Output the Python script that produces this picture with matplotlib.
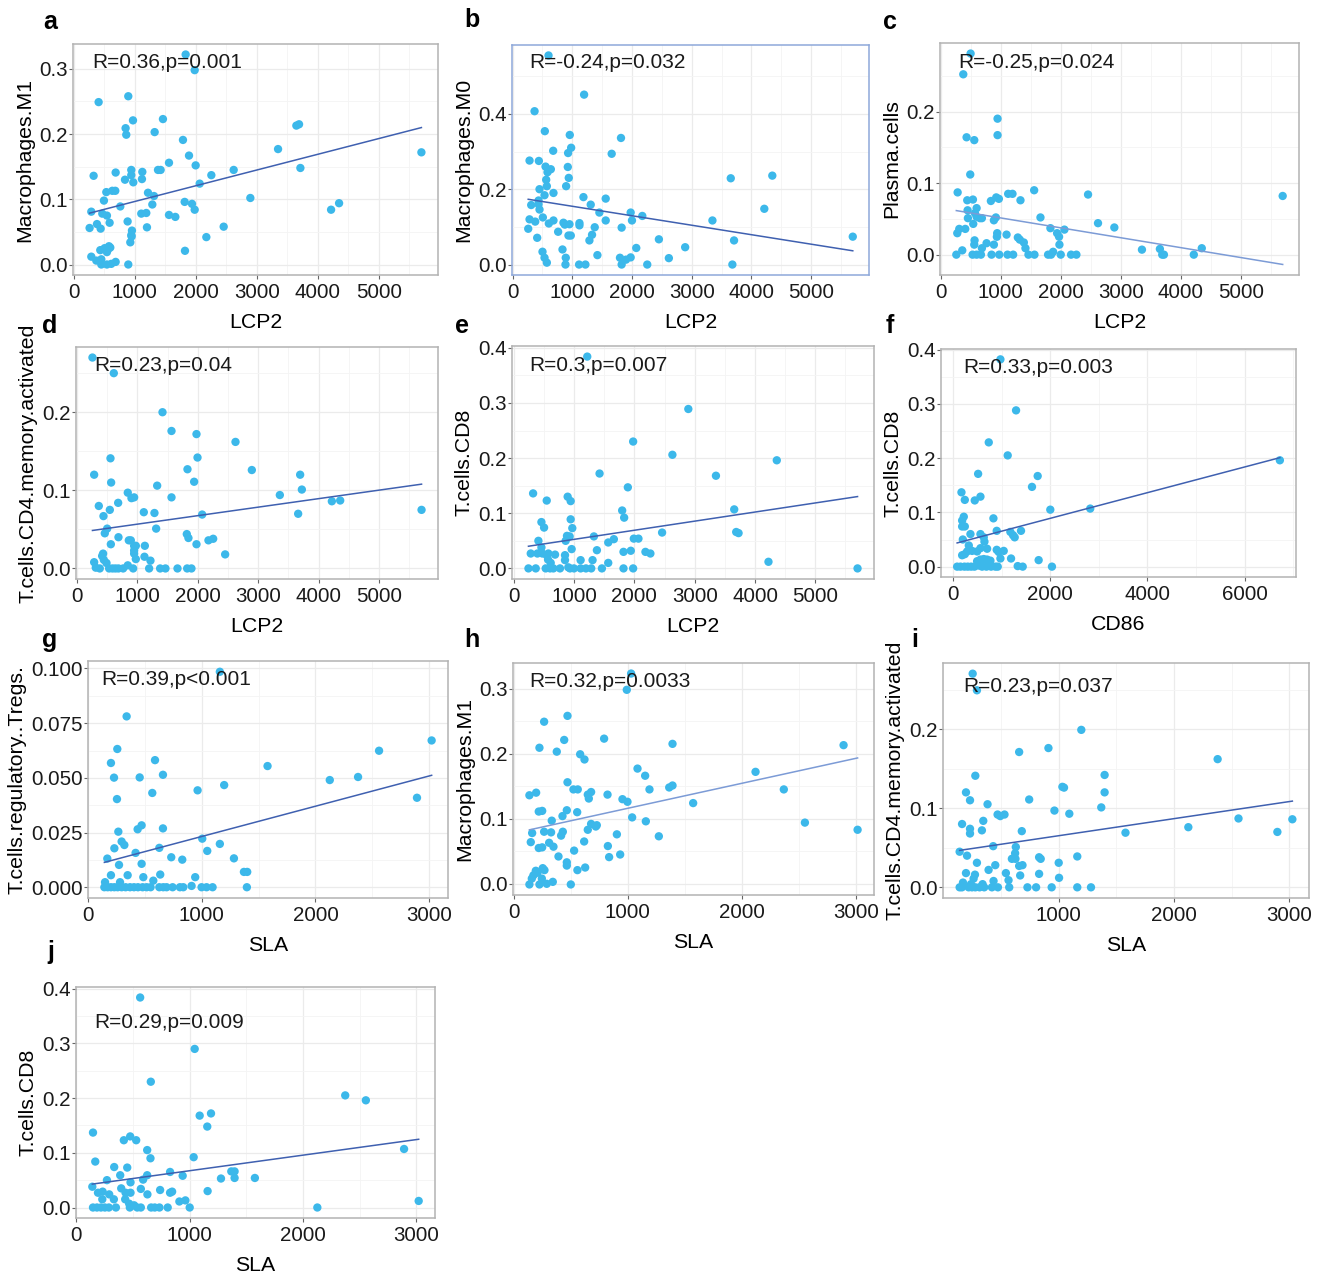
import matplotlib
matplotlib.use("Agg")
import matplotlib.pyplot as plt
import numpy as np
from matplotlib.ticker import FixedLocator, MultipleLocator

plt.rcParams["font.family"] = ["Liberation Sans", "DejaVu Sans"]

# a: LCP2 vs Macrophages.M1
x_a = [1836, 1984, 410, 896, 973, 1464, 852, 863, 1328, 1792, 1891, 1563, 2000, 328,
       689, 945, 945, 1126, 1383, 1426, 842, 978, 1120, 2257, 2623, 3350, 3650, 3694,
       3716, 2066, 634, 683, 536, 1219, 497, 1317, 1290, 765, 290, 470, 546, 1109, 1191,
       1820, 1940, 1984, 2896, 4219, 4350, 5699, 1563, 1667, 262, 383, 443, 590, 885,
       956, 945, 951, 929, 1202, 2459, 2175, 1825, 437, 508, 579, 563, 601, 546, 290,
       372, 454, 454, 546, 617, 689, 896]
y_a = [0.322, 0.298, 0.249, 0.258, 0.221, 0.223, 0.209, 0.199, 0.203, 0.191, 0.167, 0.156,
       0.152, 0.136, 0.141, 0.145, 0.137, 0.142, 0.145, 0.145, 0.130, 0.126, 0.131, 0.137,
       0.145, 0.177, 0.213, 0.215, 0.148, 0.124, 0.113, 0.113, 0.111, 0.110, 0.098, 0.105,
       0.092, 0.089, 0.081, 0.078, 0.075, 0.078, 0.079, 0.096, 0.093, 0.084, 0.102, 0.084,
       0.094, 0.172, 0.076, 0.073, 0.056, 0.062, 0.055, 0.064, 0.066, 0.052, 0.045, 0.043,
       0.034, 0.057, 0.058, 0.042, 0.021, 0.022, 0.025, 0.028, 0.023, 0.026, 0.019, 0.012,
       0.006, 0.008, 0.000, 0.000, 0.001, 0.004, 0.000]

# b: LCP2 vs Macrophages.M0
x_b = [602, 1198, 368, 540, 958, 1816, 981, 930, 680, 1660, 284, 440, 552, 925, 641, 585,
       941, 563, 574, 897, 451, 685, 535, 1187, 1560, 435, 435, 312, 1309, 451, 1454, 1978,
       2173, 507, 284, 379, 685, 607, 852, 875, 953, 1120, 1120, 1560, 2000, 3348, 262,
       1376, 1827, 763, 1331, 936, 975, 412, 1287, 2451, 3710, 5699, 2891, 2072, 501, 836,
       1421, 535, 574, 891, 1799, 1978, 1900, 2618, 886, 1114, 1220, 1827, 2256, 3682,
       3655, 4351, 4217]
y_b = [0.555, 0.451, 0.407, 0.354, 0.344, 0.336, 0.310, 0.296, 0.302, 0.294, 0.276, 0.275,
       0.260, 0.259, 0.253, 0.245, 0.230, 0.225, 0.208, 0.208, 0.200, 0.190, 0.184, 0.179,
       0.175, 0.170, 0.160, 0.158, 0.159, 0.146, 0.138, 0.138, 0.129, 0.125, 0.120, 0.114,
       0.117, 0.109, 0.111, 0.106, 0.107, 0.110, 0.104, 0.117, 0.117, 0.117, 0.095, 0.099,
       0.098, 0.087, 0.079, 0.077, 0.077, 0.071, 0.064, 0.067, 0.064, 0.074, 0.046, 0.044,
       0.034, 0.040, 0.025, 0.018, 0.005, 0.018, 0.018, 0.019, 0.013, 0.017, 0.000, 0.000,
       0.000, 0.000, 0.000, 0.000, 0.229, 0.236, 0.148]

# c: LCP2 vs Plasma.cells
x_c = [499, 377, 432, 560, 948, 948, 493, 283, 1558, 1125, 1197, 2456, 5699, 443, 538, 837,
       926, 970, 1330, 449, 599, 571, 454, 599, 654, 687, 920, 887, 1663, 543, 2622, 2894,
       1829, 310, 410, 277, 2062, 1940, 1973, 942, 937, 1098, 1286, 1319, 1386, 565, 560,
       765, 887, 1979, 687, 1413, 360, 1874, 3354, 3653, 4351, 261, 532, 599, 671, 848,
       976, 1114, 1208, 1463, 1563, 1790, 1840, 2001, 2173, 2262, 3692, 3720, 4218]
y_c = [0.281, 0.252, 0.164, 0.160, 0.190, 0.167, 0.112, 0.087, 0.090, 0.085, 0.085, 0.084,
       0.082, 0.076, 0.077, 0.075, 0.080, 0.078, 0.076, 0.062, 0.065, 0.058, 0.051, 0.053,
       0.051, 0.051, 0.052, 0.048, 0.052, 0.043, 0.044, 0.038, 0.037, 0.036, 0.036, 0.030,
       0.035, 0.030, 0.025, 0.030, 0.025, 0.028, 0.024, 0.021, 0.017, 0.020, 0.014, 0.016,
       0.014, 0.014, 0.009, 0.009, 0.006, 0.004, 0.007, 0.008, 0.009, 0.0, 0.0, 0.0, 0.0,
       0.0, 0.0, 0.0, 0.0, 0.0, 0.0, 0.0, 0.0, 0.0, 0.0, 0.0, 0.0, 0.0, 0.0]

# d: LCP2 vs T.cells.CD4.memory.activated
x_d = [259, 612, 1417, 1566, 1979, 2624, 1996, 557, 1830, 2894, 287, 3693, 568, 1940, 1329,
       3721, 843, 904, 948, 1566, 3357, 4217, 4355, 5700, 364, 684, 546, 441, 1108, 1284,
       2073, 3660, 502, 463, 1312, 689, 1819, 1846, 563, 860, 893, 1979, 2177, 2255, 948,
       976, 1125, 948, 948, 976, 1119, 1218, 2453, 435, 419, 447, 287, 491, 314, 380, 535,
       590, 639, 689, 766, 843, 932, 1196, 1378, 1466, 1665, 1825, 1896]
y_d = [0.270, 0.250, 0.200, 0.176, 0.172, 0.162, 0.142, 0.141, 0.127, 0.126, 0.120, 0.120,
       0.110, 0.111, 0.106, 0.101, 0.097, 0.090, 0.091, 0.091, 0.094, 0.086, 0.087, 0.075,
       0.080, 0.084, 0.075, 0.067, 0.072, 0.071, 0.069, 0.070, 0.051, 0.045, 0.051, 0.040,
       0.044, 0.039, 0.031, 0.036, 0.036, 0.031, 0.036, 0.038, 0.029, 0.029, 0.029, 0.023,
       0.019, 0.012, 0.015, 0.010, 0.018, 0.019, 0.016, 0.011, 0.008, 0.007, 0.001, 0.0,
       0.0, 0.0, 0.0, 0.0, 0.0, 0.004, 0.0, 0.0, 0.0, 0.0, 0.0, 0.0, 0.0]

# e: LCP2 vs T.cells.CD8
x_e = [1218, 2894, 1979, 2630, 4361, 1422, 3352, 1891, 320, 546, 893, 943, 1797, 3655, 1830,
       943, 458, 502, 970, 2459, 3688, 3727, 408, 860, 882, 926, 1328, 1990, 2067, 1659,
       1566, 458, 1378, 959, 1819, 1940, 2183, 2265, 281, 391, 474, 546, 573, 684, 849,
       849, 568, 612, 1108, 1306, 1566, 4223, 243, 364, 529, 601, 656, 766, 904, 932, 998,
       1108, 1196, 1284, 1461, 1819, 1979, 5700]
y_e = [0.384, 0.289, 0.230, 0.206, 0.196, 0.172, 0.168, 0.147, 0.136, 0.123, 0.130, 0.122,
       0.105, 0.107, 0.092, 0.089, 0.084, 0.074, 0.073, 0.065, 0.066, 0.064, 0.050, 0.050,
       0.059, 0.058, 0.058, 0.054, 0.054, 0.053, 0.047, 0.038, 0.033, 0.035, 0.030, 0.032,
       0.030, 0.027, 0.027, 0.027, 0.027, 0.024, 0.027, 0.025, 0.024, 0.015, 0.016, 0.010,
       0.015, 0.015, 0.010, 0.012, 0.0, 0.0, 0.0, 0.0, 0.0, 0.0, 0.002, 0.0, 0.0, 0.0, 0.0,
       0.0, 0.0, 0.0, 0.0, 0.0]

# f: CD86 vs T.cells.CD8
x_f = [973, 1295, 733, 1123, 6726, 514, 1740, 1623, 171, 562, 240, 445, 2000, 2822, 219, 185,
       829, 185, 240, 897, 1397, 356, 562, 1178, 1233, 1267, 630, 644, 199, 322, 699, 897,
       938, 1041, 562, 288, 390, 493, 185, 240, 973, 1192, 1760, 493, 562, 630, 699, 767,
       82, 151, 233, 301, 370, 438, 527, 596, 685, 781, 870, 918, 1329, 1432, 2034]
y_f = [0.382, 0.288, 0.229, 0.205, 0.196, 0.171, 0.167, 0.147, 0.137, 0.129, 0.123, 0.122,
       0.105, 0.107, 0.092, 0.085, 0.089, 0.074, 0.074, 0.066, 0.066, 0.060, 0.060, 0.064,
       0.058, 0.054, 0.054, 0.046, 0.050, 0.039, 0.033, 0.031, 0.027, 0.029, 0.034, 0.028,
       0.029, 0.028, 0.021, 0.023, 0.015, 0.015, 0.012, 0.010, 0.013, 0.014, 0.013, 0.011,
       0.0, 0.0, 0.0, 0.0, 0.0, 0.0, 0.002, 0.0, 0.0, 0.0, 0.0, 0.0, 0.001, 0.0, 0.0]

# g: SLA vs T.cells.regulatory..Tregs.
x_g = [1158, 337, 3023, 255, 2560, 199, 587, 1578, 226, 452, 657, 2375, 2126, 1196, 962, 563,
       252, 2894, 469, 434, 657, 264, 293, 317, 1003, 229, 625, 1158, 1047, 416, 167, 730,
       827, 1282, 270, 469, 1370, 1399, 199, 346, 484, 941, 572, 633, 147, 279, 909, 141,
       170, 199, 229, 258, 293, 328, 367, 402, 437, 478, 513, 548, 625, 660, 689, 742, 806,
       836, 997, 1041, 1094, 1396]
y_g = [0.0985, 0.0781, 0.0671, 0.0632, 0.0624, 0.0568, 0.0581, 0.0554, 0.0501, 0.0502,
       0.0514, 0.0504, 0.0490, 0.0467, 0.0443, 0.0431, 0.0403, 0.0409, 0.0283, 0.0265,
       0.0269, 0.0254, 0.0209, 0.0193, 0.0222, 0.0178, 0.0180, 0.0198, 0.0166, 0.0157,
       0.0131, 0.0137, 0.0126, 0.0132, 0.0102, 0.0107, 0.0070, 0.0070, 0.0055, 0.0055,
       0.0046, 0.0046, 0.0030, 0.0058, 0.0023, 0.0023, 0.0006, 0, 0, 0, 0, 0, 0, 0, 0, 0,
       0, 0, 0, 0, 0, 0, 0, 0, 0, 0, 0, 0, 0, 0]

# h: SLA vs Macrophages.M1
x_h = [1029, 991, 471, 266, 792, 442, 1392, 2892, 225, 377, 582, 620, 1085, 2120, 1152, 471,
       523, 561, 1190, 2368, 1363, 1392, 137, 196, 649, 678, 822, 658, 953, 997, 1573, 219,
       249, 465, 556, 427, 333, 1038, 1158, 2553, 678, 728, 649, 719, 161, 266, 327, 430,
       415, 904, 1272, 3015, 149, 617, 310, 348, 219, 249, 825, 529, 392, 836, 933, 465,
       465, 626, 558, 193, 208, 254, 269, 172, 158, 246, 342, 137, 225, 289, 500]
y_h = [0.323, 0.298, 0.258, 0.249, 0.223, 0.221, 0.215, 0.213, 0.209, 0.203, 0.199, 0.191,
       0.177, 0.172, 0.166, 0.156, 0.145, 0.145, 0.145, 0.145, 0.148, 0.151, 0.136, 0.140,
       0.137, 0.141, 0.137, 0.131, 0.130, 0.126, 0.124, 0.111, 0.112, 0.113, 0.110, 0.104,
       0.097, 0.102, 0.096, 0.094, 0.092, 0.090, 0.083, 0.088, 0.078, 0.080, 0.079, 0.080,
       0.074, 0.076, 0.073, 0.083, 0.064, 0.065, 0.063, 0.057, 0.055, 0.056, 0.058, 0.051,
       0.042, 0.041, 0.045, 0.033, 0.028, 0.025, 0.021, 0.020, 0.017, 0.024, 0.021, 0.013,
       0.008, 0.008, 0.003, -0.001, -0.001, 0.000, -0.001]

# i: SLA vs T.cells.CD4.memory.activated
x_i = [254, 291, 1196, 911, 657, 2378, 277, 1398, 1032, 1046, 196, 1398, 231, 744, 383, 1369,
       963, 1092, 470, 493, 530, 2559, 3026, 162, 346, 231, 2124, 334, 680, 231, 2896, 1579,
       141, 205, 432, 628, 622, 594, 625, 830, 844, 1161, 291, 1000, 392, 450, 657, 686,
       196, 542, 830, 666, 274, 262, 435, 565, 1003, 170, 340, 239, 141, 161, 219, 248,
       277, 314, 354, 421, 473, 571, 729, 804, 939, 1161, 1280]
y_i = [0.270, 0.249, 0.199, 0.176, 0.171, 0.162, 0.141, 0.142, 0.127, 0.126, 0.120, 0.120,
       0.110, 0.111, 0.105, 0.101, 0.097, 0.093, 0.092, 0.090, 0.092, 0.087, 0.086, 0.080,
       0.084, 0.074, 0.076, 0.072, 0.071, 0.068, 0.070, 0.069, 0.045, 0.040, 0.052, 0.051,
       0.043, 0.036, 0.036, 0.038, 0.036, 0.039, 0.031, 0.031, 0.022, 0.028, 0.027, 0.028,
       0.018, 0.018, 0.017, 0.015, 0.016, 0.011, 0.008, 0.009, 0.012, 0.006, 0.004, 0.004,
       0, 0, 0, 0, 0, 0, 0, 0, 0, 0, 0, 0, 0, 0, 0]

# j: SLA vs T.cells.CD8
x_j = [563, 1044, 657, 2372, 2554, 1188, 1088, 1155, 147, 475, 419, 528, 625, 2891, 1035, 654,
       167, 334, 449, 827, 1367, 1396, 625, 387, 938, 270, 589, 1276, 1396, 1575, 478, 141,
       396, 569, 739, 1158, 191, 232, 290, 434, 478, 827, 845, 627, 229, 331, 431, 909, 962,
       3020, 466, 510, 147, 182, 217, 252, 287, 349, 472, 537, 569, 660, 692, 733, 806,
       1000, 2126]
y_j = [0.384, 0.290, 0.230, 0.205, 0.196, 0.172, 0.168, 0.148, 0.137, 0.130, 0.123, 0.123,
       0.105, 0.107, 0.092, 0.090, 0.084, 0.074, 0.073, 0.065, 0.066, 0.066, 0.059, 0.059,
       0.058, 0.050, 0.051, 0.053, 0.054, 0.054, 0.046, 0.038, 0.035, 0.034, 0.032, 0.030,
       0.027, 0.029, 0.024, 0.027, 0.027, 0.027, 0.029, 0.024, 0.015, 0.015, 0.015, 0.011,
       0.013, 0.012, 0.007, 0.004, 0, 0, 0, 0, 0, 0, 0, 0, 0, 0, 0, 0, 0, 0, 0]

labels = ["a", "b", "c", "d", "e", "f", "g", "h", "i", "j"]
x_names = ["LCP2", "LCP2", "LCP2", "LCP2", "LCP2", "CD86", "SLA", "SLA", "SLA", "SLA"]
y_names = ["Macrophages.M1", "Macrophages.M0", "Plasma.cells",
           "T.cells.CD4.memory.activated", "T.cells.CD8", "T.cells.CD8",
           "T.cells.regulatory..Tregs.", "Macrophages.M1",
           "T.cells.CD4.memory.activated", "T.cells.CD8"]
stats = ["R=0.36,p=0.001", "R=-0.24,p=0.032", "R=-0.25,p=0.024", "R=0.23,p=0.04",
         "R=0.3,p=0.007", "R=0.33,p=0.003", "R=0.39,p<0.001", "R=0.32,p=0.0033",
         "R=0.23,p=0.037", "R=0.29,p=0.009"]
xs = [x_a, x_b, x_c, x_d, x_e, x_f, x_g, x_h, x_i, x_j]
ys = [y_a, y_b, y_c, y_d, y_e, y_f, y_g, y_h, y_i, y_j]

W, H = 1320, 1274
# axes boxes in pixels: left, top, right, bottom
boxes = [(73, 44, 438, 275), (512, 45, 869, 275), (940, 43, 1299, 275),
         (76, 347, 438, 579), (512, 346, 874, 579), (941, 349, 1296, 577),
         (88, 661, 448, 898), (513, 663, 874, 895), (943, 663, 1309, 898),
         (76, 987, 435, 1218)]
letter_pos = [(50, 22), (472, 20), (890, 22), (50, 326), (462, 326), (890, 326),
              (50, 640), (472, 640), (915, 640), (51, 952)]
stat_pos = [(0.054, 0.922), (0.048, 0.926), (0.05, 0.918), (0.05, 0.922), (0.047, 0.918),
            (0.062, 0.921), (0.036, 0.92), (0.044, 0.922), (0.055, 0.902), (0.05, 0.848)]
xticks = [[0, 1000, 2000, 3000, 4000, 5000]] * 5 + [[0, 2000, 4000, 6000]] + \
         [[0, 1000, 2000, 3000]] * 3 + [[0, 1000, 2000, 3000]]
xticks[8] = [1000, 2000, 3000]
yticks = [[0, 0.1, 0.2, 0.3], [0, 0.2, 0.4], [0, 0.1, 0.2], [0, 0.1, 0.2],
          [0, 0.1, 0.2, 0.3, 0.4], [0, 0.1, 0.2, 0.3, 0.4],
          [0, 0.025, 0.05, 0.075, 0.1], [0, 0.1, 0.2, 0.3], [0, 0.1, 0.2],
          [0, 0.1, 0.2, 0.3, 0.4]]
line_colors = ["#3f60b0"] * 10
line_colors[2] = "#7c9bd6"
line_colors[7] = "#7c9bd6"
border_colors = ["#b3b3b3"] * 10
border_colors[1] = "#8ea8da"

fig = plt.figure(figsize=(W / 100, H / 100), dpi=100)

for k in range(10):
    l, t, r, b = boxes[k]
    ax = fig.add_axes([l / W, 1 - b / H, (r - l) / W, (b - t) / H])
    x = np.array(xs[k], dtype=float)
    y = np.array(ys[k], dtype=float)
    ax.scatter(x, y, s=36, color="#3cb8ea", edgecolors="none", zorder=3)
    slope, icpt = np.polyfit(x, y, 1)
    xl = np.array([x.min(), x.max()])
    ax.plot(xl, slope * xl + icpt, color=line_colors[k], lw=1.1, zorder=4)
    ax.margins(0.05)

    xt = xticks[k]
    yt = yticks[k]
    ax.xaxis.set_major_locator(FixedLocator(xt))
    ax.yaxis.set_major_locator(FixedLocator(yt))
    xstep = xt[1] - xt[0]
    ystep = yt[1] - yt[0]
    ax.xaxis.set_minor_locator(MultipleLocator(xstep / 2))
    ax.yaxis.set_minor_locator(MultipleLocator(ystep / 2))
    ax.set_xticklabels([str(v) for v in xt])
    fmt = "%.3f" if k == 6 else "%.1f"
    ax.set_yticklabels([fmt % v for v in yt])

    ax.grid(which="major", color="#ebebeb", lw=0.9, zorder=0)
    ax.grid(which="minor", color="#f4f4f4", lw=0.6, zorder=0)
    ax.set_axisbelow(True)
    for sp in ax.spines.values():
        sp.set_color(border_colors[k])
        sp.set_linewidth(1.1)
    ax.tick_params(which="major", length=3, width=0.8, color="#666666",
                   labelsize=14.8, labelcolor="#1a1a1a")
    ax.tick_params(axis="y", pad=1)
    ax.tick_params(axis="x", pad=3)
    ax.tick_params(which="minor", length=0)

    ax.set_xlabel(x_names[k], fontsize=15.3, labelpad=8)
    ax.set_ylabel(y_names[k], fontsize=15.3, labelpad=3)
    ax.text(stat_pos[k][0], stat_pos[k][1], stats[k], transform=ax.transAxes,
            ha="left", va="center", fontsize=15, color="#1a1a1a", zorder=6)

    lx, ly = letter_pos[k]
    fig.text(lx / W, 1 - ly / H, labels[k], fontsize=18, fontweight="bold",
             ha="center", va="center")

fig.savefig("out.png", dpi=100)
